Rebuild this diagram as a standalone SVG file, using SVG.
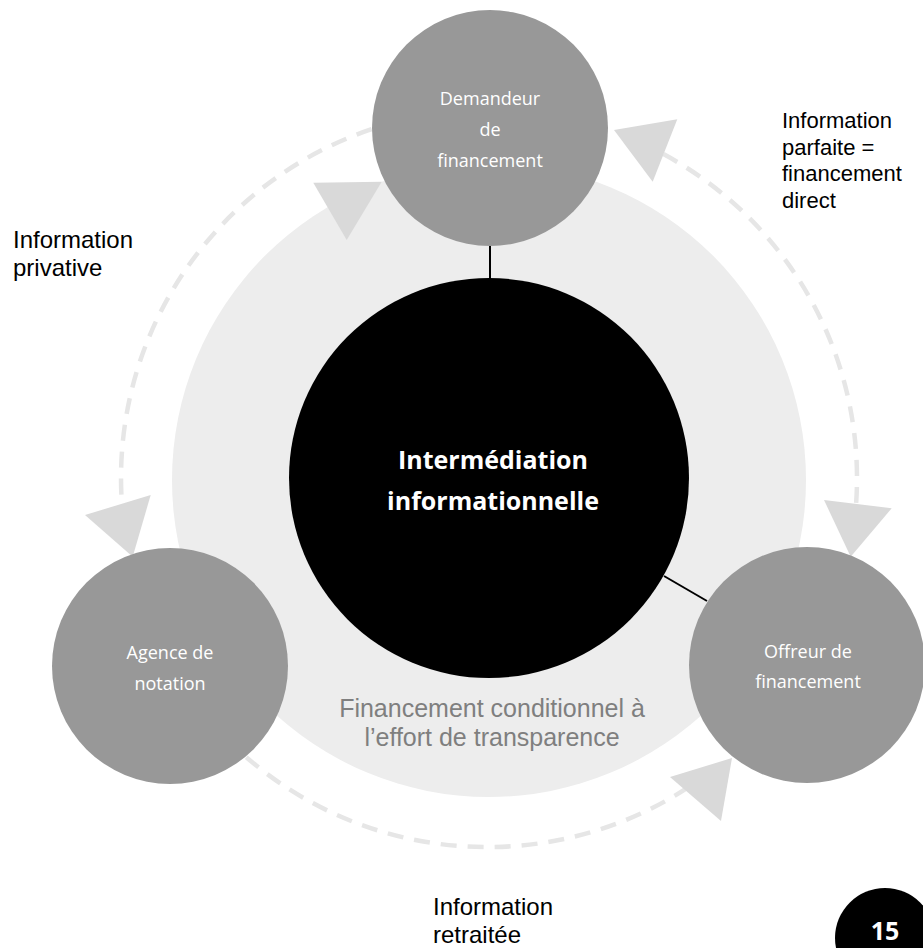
<svg xmlns="http://www.w3.org/2000/svg" width="923" height="948" viewBox="0 0 923 948">
  <style>
    .halo { fill: #ededed; }
    .flow { fill: none; stroke: #e6e6e6; stroke-width: 4.5; stroke-dasharray: 16 11; }
    .head { fill: #d9d9d9; }
    .link { stroke: #000000; stroke-width: 2; }
    .actor { fill: #989898; }
    .actor-text { font-family: "Open Sans", "DejaVu Sans", sans-serif; font-size: 18px; fill: #ffffff; text-anchor: middle; }
    .hub { fill: #000000; }
    .hub-text { font-family: "Open Sans", "DejaVu Sans", sans-serif; font-size: 25px; font-weight: bold; fill: #ffffff; text-anchor: middle; }
    .note { font-family: "Liberation Sans", Arial, sans-serif; font-size: 24px; fill: #000000; }
    .note-sm { font-size: 22px; }
    .caption { font-family: "Liberation Sans", Arial, sans-serif; font-size: 25px; fill: #7f7f7f; text-anchor: middle; }
  </style>

  <rect width="923" height="948" fill="#ffffff"/>

  <!-- background disc behind the hub -->
  <circle class="halo" cx="489" cy="480" r="317"/>

  <!-- dashed information flows and their arrowheads -->
  <g id="connectors">
    <path class="flow" d="M371.6,129.2 A368,368 0 0 0 122,504.9"/>
    <path class="flow" d="M663.4,154.1 A368,368 0 0 1 856.1,503.7"/>
    <path class="flow" d="M246.3,757.2 A368,368 0 0 0 689.4,786.6"/>

    <polygon class="head" points="313.3,182.7 381.7,181.7 346.7,240"/>
    <polygon class="head" points="614,130 677.3,119.3 652.7,181.7"/>
    <polygon class="head" points="824,500 891.7,508.3 850.7,556.7"/>
    <polygon class="head" points="85,515 150.7,495 132.7,556.7"/>
    <polygon class="head" points="732,758 670,777 721,821"/>

    <line class="link" x1="490" y1="246" x2="490" y2="280"/>
    <line class="link" x1="664" y1="576" x2="707" y2="601"/>
  </g>

  <g id="hub">
    <circle class="hub" cx="489" cy="478" r="200"/>
    <text class="hub-text" x="493" y="469">Intermédiation</text>
    <text class="hub-text" x="493" y="510">informationnelle</text>
  </g>

  <g id="demandeur">
    <circle class="actor" cx="490" cy="128" r="118"/>
    <text class="actor-text" x="490" y="105">Demandeur</text>
    <text class="actor-text" x="490" y="136">de</text>
    <text class="actor-text" x="490" y="167">financement</text>
  </g>

  <g id="agence">
    <circle class="actor" cx="170" cy="666" r="118"/>
    <text class="actor-text" x="170" y="659">Agence de</text>
    <text class="actor-text" x="170" y="690">notation</text>
  </g>

  <g id="offreur">
    <circle class="actor" cx="807" cy="665" r="118"/>
    <text class="actor-text" x="808" y="658">Offreur de</text>
    <text class="actor-text" x="808" y="688">financement</text>
  </g>

  <g id="label-transparence">
    <text class="caption" x="492" y="717">Financement conditionnel à</text>
    <text class="caption" x="492" y="746">l’effort de transparence</text>
  </g>

  <g id="label-parfaite">
    <text class="note note-sm" x="782" y="128">Information</text>
    <text class="note note-sm" x="782" y="154.5">parfaite =</text>
    <text class="note note-sm" x="782" y="181">financement</text>
    <text class="note note-sm" x="782" y="207.5">direct</text>
  </g>

  <g id="label-privative">
    <text class="note" x="13" y="248">Information</text>
    <text class="note" x="13" y="276">privative</text>
  </g>

  <g id="label-retraitee">
    <text class="note" x="433" y="915">Information</text>
    <text class="note" x="433" y="943">retraitée</text>
  </g>

  <g id="page-number">
    <circle class="hub" cx="885" cy="938" r="50"/>
    <text class="hub-text" x="885" y="940" font-size="22">15</text>
  </g>
</svg>
